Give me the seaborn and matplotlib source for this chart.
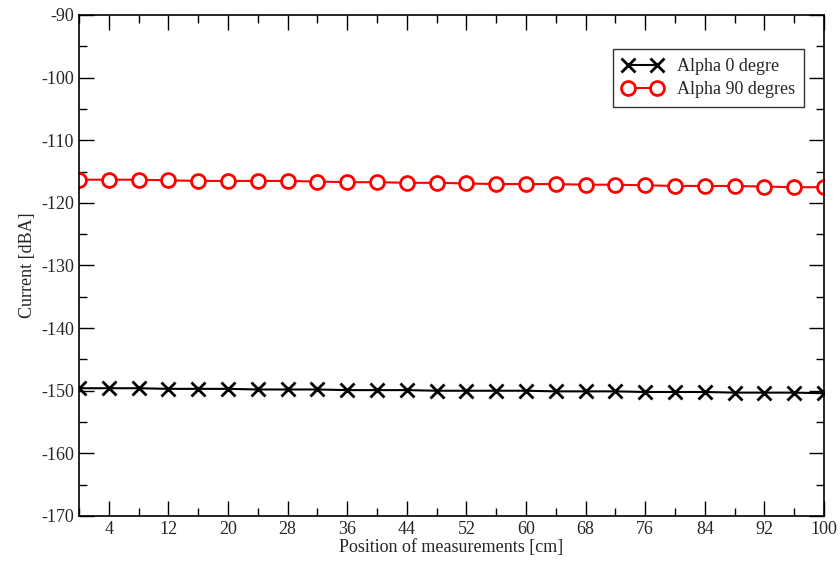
import numpy as np
import pandas as pd
import matplotlib
matplotlib.use("Agg")
import matplotlib.pyplot as plt
import seaborn as sns
from matplotlib.ticker import MultipleLocator

# data
positions = list(range(0, 101, 4))
alpha0 = [-149.6, -149.6, -149.6, -149.7, -149.7, -149.7, -149.8, -149.8, -149.8,
          -149.9, -149.9, -149.9, -150.0, -150.0, -150.0, -150.0, -150.1, -150.1,
          -150.1, -150.2, -150.2, -150.2, -150.3, -150.3, -150.3, -150.4]
alpha90 = [-116.3, -116.3, -116.3, -116.4, -116.5, -116.5, -116.5, -116.5, -116.6,
           -116.7, -116.7, -116.8, -116.8, -116.9, -117.0, -117.0, -117.0, -117.1,
           -117.1, -117.2, -117.3, -117.3, -117.3, -117.4, -117.5, -117.5]

df0 = pd.DataFrame({"pos": positions, "val": alpha0})
df90 = pd.DataFrame({"pos": positions, "val": alpha90})

sns.set_style("ticks")
plt.rcParams["font.family"] = ["Liberation Serif", "DejaVu Serif"]
plt.rcParams["axes.unicode_minus"] = False

fig = plt.figure(figsize=(8.4, 5.63), dpi=100)
ax = fig.add_axes([0.094, 0.0835, 0.887, 0.8899])

sns.lineplot(data=df0, x="pos", y="val", ax=ax, color="black", marker="x",
             markersize=10, markeredgewidth=2, markeredgecolor="black",
             linewidth=1.5, label="Alpha 0 degre")
sns.lineplot(data=df90, x="pos", y="val", ax=ax, color="red", marker="o",
             markersize=10, markeredgewidth=2, markerfacecolor="white",
             markeredgecolor="red", linewidth=1.5, label="Alpha 90 degres")

ax.set_xlim(0, 100)
ax.set_ylim(-170, -90)
ax.set_xticks(list(range(4, 101, 8)))
ax.xaxis.set_minor_locator(MultipleLocator(4))
ax.yaxis.set_major_locator(MultipleLocator(10))
ax.yaxis.set_minor_locator(MultipleLocator(5))
ax.tick_params(which="both", direction="in", top=True, right=True,
               labelsize=13, width=1, color="black")
ax.tick_params(which="major", length=11)
ax.tick_params(which="minor", length=6)
for s in ax.spines.values():
    s.set_linewidth(1.2)
    s.set_color("black")

ax.set_xlabel("Position of measurements [cm]", fontsize=13, labelpad=1)
ax.set_ylabel("Current [dBA]", fontsize=13)

leg = ax.legend(loc="upper right", bbox_to_anchor=(0.985, 0.95), fontsize=13,
                frameon=True, fancybox=False, edgecolor="black", numpoints=2,
                handlelength=2.2, borderpad=0.5, labelspacing=0.35)
leg.get_frame().set_linewidth(1)

fig.savefig("out.png", dpi=100)
